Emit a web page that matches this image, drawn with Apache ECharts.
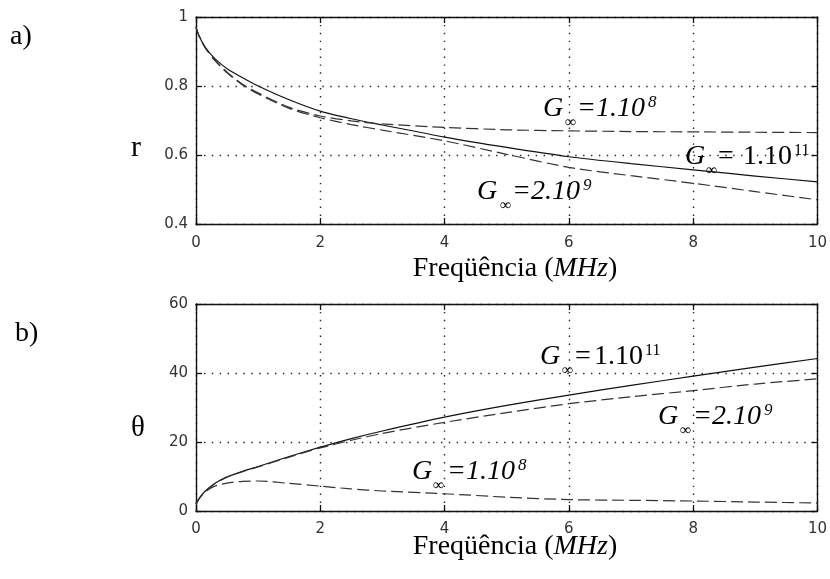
<!DOCTYPE html>
<html>
<head>
<meta charset="utf-8">
<script src="https://cdn.jsdelivr.net/npm/echarts@6/dist/echarts.min.js"></script>
<style>html,body{margin:0;padding:0;background:#fff}#c{width:830px;height:579px}</style>
</head>
<body>
<div id="c"></div>
<script>
// ---- data ----
const freq = [0, 0.05, 0.15, 0.3, 0.5, 0.75, 1, 1.5, 2, 2.5, 3, 4, 5, 6, 7, 8, 9, 10];
// panel a) r
const rG11 = [0.97, 0.945, 0.912, 0.88, 0.85, 0.824, 0.80, 0.76, 0.727, 0.705, 0.687, 0.652, 0.622, 0.595, 0.575, 0.557, 0.539, 0.522];
const rG8  = [0.97, 0.945, 0.91, 0.875, 0.84, 0.805, 0.78, 0.738, 0.713, 0.699, 0.69, 0.68, 0.673, 0.67, 0.668, 0.667, 0.666, 0.665];
const rG9  = [0.97, 0.945, 0.91, 0.875, 0.838, 0.803, 0.777, 0.735, 0.708, 0.688, 0.672, 0.641, 0.602, 0.564, 0.54, 0.518, 0.494, 0.47];
// panel b) theta
const tG11 = [2, 3.6, 5.8, 8.0, 9.9, 11.5, 12.9, 15.8, 18.5, 21, 23.2, 27.2, 30.6, 33.6, 36.4, 39.1, 41.7, 44.2];
const tG9  = [2, 3.6, 5.7, 7.9, 9.8, 11.4, 12.8, 15.6, 18.3, 20.5, 22.5, 25.7, 28.5, 31.1, 33.1, 34.9, 36.8, 38.3];
const tG8  = [2, 3.6, 5.6, 7.2, 8.1, 8.6, 8.7, 8.0, 7.2, 6.4, 5.8, 5.0, 4.0, 3.3, 3.1, 2.9, 2.6, 2.3];
// axes
const xTicks = [0, 2, 4, 6, 8, 10];
const rAxis = {min: 0.4, max: 1, interval: 0.2};
const tAxis = {min: 0, max: 60, interval: 20};
const xLabel = 'Freqüência (MHz)';

const pair = (ys) => freq.map((x, i) => [x, ys[i]]);
const SERIF = '"Liberation Serif", "Times New Roman", serif';
const TICKFONT = {fontFamily: '"DejaVu Sans", sans-serif', fontSize: 15, color: '#333'};

function xAx(grid, pos, show, margin) {
  return {
    type: 'value', gridIndex: grid, position: pos, min: 0, max: 10, interval: 2,
    axisLine: {show: true, onZero: false, lineStyle: {color: '#111', width: 1.4}},
    axisTick: {show: true, inside: true, length: 6, lineStyle: {color: '#111', width: 1.3}},
    axisLabel: Object.assign({show: show, margin: margin}, TICKFONT),
    splitLine: {show: show, lineStyle: {color: '#222', width: 1.4, type: [1.4, 6.5]}}
  };
}
function yAx(grid, pos, show, rng, fmt) {
  return {
    type: 'value', gridIndex: grid, position: pos, min: rng.min, max: rng.max, interval: rng.interval,
    axisLine: {show: true, onZero: false, lineStyle: {color: '#111', width: 1.4}},
    axisTick: {show: true, inside: true, length: 6, lineStyle: {color: '#111', width: 1.3}},
    axisLabel: Object.assign({show: show, margin: 8, formatter: fmt}, TICKFONT),
    splitLine: {show: show, lineStyle: {color: '#222', width: 1.4, type: [1.4, 6.5]}}
  };
}
function line(name, data, xi, yi, dashed) {
  return {
    name: name, type: 'line', xAxisIndex: xi, yAxisIndex: yi, data: data,
    showSymbol: false, smooth: 0.25, animation: false,
    lineStyle: {color: dashed ? '#333' : '#111', width: 1.2, type: dashed ? [12, 5] : 'solid'}
  };
}

// text helper for annotations
function t(str, x, y, size, italic, align) {
  return {type: 'text', x: x, y: y, silent: true, style: {
    text: str, font: (italic ? 'italic ' : '') + size + 'px ' + SERIF, fill: '#000',
    align: align || 'left', verticalAlign: 'middle', textAlign: align || 'left', textVerticalAlign: 'middle'
  }};
}
function labelItalic(y, body, sup, gx, infx, eqx, supx) {
  return [
    t('G', gx, y, 28, true),
    t('∞', infx, y + 14, 16, false),
    t(body, eqx, y, 28, true),
    t(sup, supx, y - 6, 17, true)
  ];
}
function labelUpright(gx, y, infx, eqx, numEnd, supx, body, sup) {
  return [
    t('G', gx, y, 28, true),
    t('∞', infx, y + 14, 16, false),
    t('=', eqx, y, 28, false),
    t(body, numEnd, y, 28, false, 'right'),
    t(sup, supx, y - 6, 16, false)
  ];
}

const graphics = [].concat(
  [t('a)', 10, 37, 28, false), t('b)', 15, 334, 28, false)],
  [t('r', 131, 148, 30, false), t('θ', 131, 428, 29, false)],
  [
    {type: 'text', x: 515, y: 269, silent: true, style: {
      text: '{n|Freqüência (}{i|MHz}{n|)}', align: 'center', verticalAlign: 'middle',
      rich: {n: {fontFamily: SERIF, fontSize: 28, color: '#000'}, i: {fontFamily: SERIF, fontSize: 28, fontStyle: 'italic', color: '#000'}}}},
    {type: 'text', x: 515, y: 547, silent: true, style: {
      text: '{n|Freqüência (}{i|MHz}{n|)}', align: 'center', verticalAlign: 'middle',
      rich: {n: {fontFamily: SERIF, fontSize: 28, color: '#000'}, i: {fontFamily: SERIF, fontSize: 28, fontStyle: 'italic', color: '#000'}}}}
  ],
  // top panel annotations
  labelItalic(109, '=1.10', '8', 543, 565, 577, 648),
  labelUpright(685, 157, 706, 718, 792, 794, '1.10', '11'),
  labelItalic(192, '=2.10', '9', 477, 500, 512, 583),
  // bottom panel annotations
  labelUpright(540, 357, 562, 575, 643, 645, '1.10', '11'),
  labelItalic(417, '=2.10', '9', 658, 680, 693, 764),
  labelItalic(472, '=1.10', '8', 412, 433, 447, 518)
);

const chart = echarts.init(document.getElementById('c'), null, {renderer: 'canvas'});
chart.setOption({
  animation: false,
  backgroundColor: '#fff',
  grid: [
    {left: 196, top: 17, width: 625, height: 207},
    {left: 196, top: 304, width: 625, height: 207}
  ],
  xAxis: [
    xAx(0, 'bottom', true, 12), xAx(0, 'top', false, 0),
    xAx(1, 'bottom', true, 11), xAx(1, 'top', false, 0)
  ],
  yAxis: [
    yAx(0, 'left', true, rAxis, v => (v === 1 ? '1' : v.toFixed(1))), yAx(0, 'right', false, rAxis),
    yAx(1, 'left', true, tAxis, v => String(v)), yAx(1, 'right', false, tAxis)
  ],
  series: [
    line('G∞=1.10^11', pair(rG11), 0, 0, false),
    line('G∞=1.10^8', pair(rG8), 0, 0, true),
    line('G∞=2.10^9', pair(rG9), 0, 0, true),
    line('G∞=1.10^11', pair(tG11), 2, 2, false),
    line('G∞=2.10^9', pair(tG9), 2, 2, true),
    line('G∞=1.10^8', pair(tG8), 2, 2, true)
  ],
  graphic: graphics
});
</script>
</body>
</html>
